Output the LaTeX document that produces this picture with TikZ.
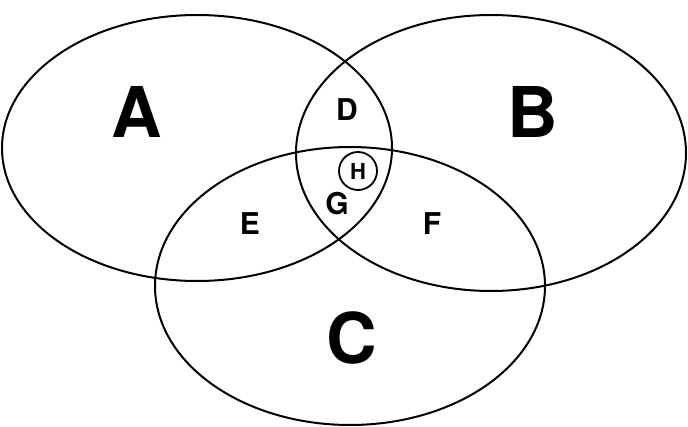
\documentclass[tikz,border=0pt]{standalone}
\usepackage{fontspec}
\setmainfont{TeX Gyre Heros}
\begin{document}
\begin{tikzpicture}[x=1pt,y=-1pt,line width=2pt,
  big/.style={font=\fontsize{70}{70}\selectfont\bfseries},
  small/.style={font=\fontsize{30}{30}\selectfont\bfseries}]
\useasboundingbox (0,0) rectangle (688,427);
\draw (197,148) ellipse [x radius=195, y radius=133];
\draw (491,153) ellipse [x radius=195, y radius=138];
\draw (350,286) ellipse [x radius=195, y radius=139];
\node[big] (a) at (137,112) {A};
\node[big] (b) at (533,112) {B};
\node[big] (c) at (352,338) {C};
\node[small] (d) at (347,110) {D};
\node[small] (e) at (250,224) {E};
\node[small] (f) at (432,224) {F};
\node[small] (g) at (337,204) {G};
\node[draw,circle,minimum size=38pt,inner sep=0pt,line width=1.8pt,font=\fontsize{22}{22}\selectfont\bfseries] (h) at (358,171) {H};
\end{tikzpicture}
\end{document}
